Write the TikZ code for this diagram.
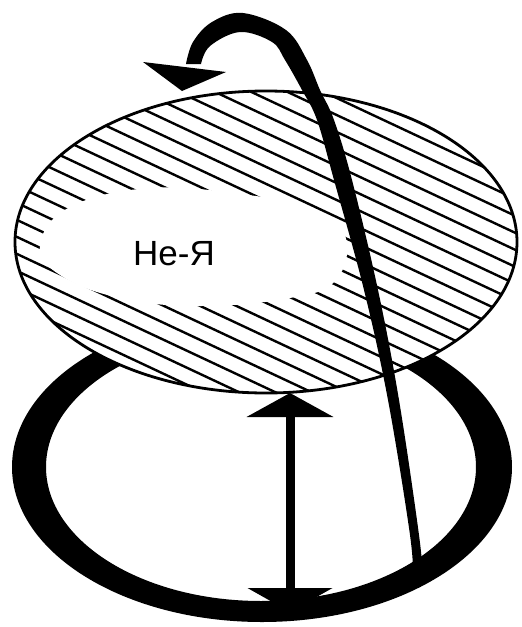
\documentclass[tikz,border=0pt]{standalone}
\usepackage{fontspec}
\setmainfont{Liberation Sans}
\usetikzlibrary{arrows.meta}
\begin{document}
\begin{tikzpicture}[x=1pt,y=-1pt,
  hatchline/.style={line width=2.4pt},
  discoutline/.style={line width=2.8pt},
  label/.style={font=\fontsize{35}{40}\selectfont, inner sep=0pt}]
\useasboundingbox (0,0) rectangle (522,627);
\fill[white] (0,0) rectangle (522,627);
% lower thick ring
\coordinate (ringc) at (262,467);
\fill[black, even odd rule] (ringc) ellipse [x radius=250pt, y radius=155pt]
      (261,467) ellipse [x radius=215pt, y radius=134pt];
% upper hatched disc
\coordinate (disc) at (266,242);
\fill[white] (disc) ellipse [x radius=251pt, y radius=151pt];
\begin{scope}
  \clip (disc) ellipse [x radius=251pt, y radius=151pt];
  \foreach \k in {-12,...,26} \draw[hatchline] (0,{-9+17*\k}) -- (522,{236+17*\k});
  \fill[white] plot[smooth cycle, tension=0.7] coordinates
    {(40,245) (70,207) (150,188) (240,194) (310,208) (345,235) (336,280) (290,298) (200,306) (120,298) (60,275)};
\end{scope}
\draw[discoutline] (disc) ellipse [x radius=251pt, y radius=151pt];
% label
\node[label, anchor=base west] (lbl) at (133,265) {He-Я};
% vertical double arrow
\coordinate (vt) at (290,393);
\coordinate (vb) at (290,612);
\draw[line width=9pt, {Triangle[width=86pt,length=24pt]}-{Triangle[width=84pt,length=24pt]}] (vt) -- (vb);
% curved rotation arrow (tapered)
\fill[black] plot[smooth, tension=0.6] coordinates
  {(423,580) (419,535) (399,400) (378,290) (352,180) (334,120) (320,90) (307,60) (286,30) (243,13) (212,22) (193,42) (186,64)}
  -- plot[smooth, tension=0.6] coordinates
  {(201,64) (210,46) (240,32) (272,42) (285,60) (302,90) (317,120) (334,180) (364,290) (388,400) (410,535) (413,580)}
  -- cycle;
\coordinate (tip) at (143,62);
\fill[black] (tip) -- (226,72) -- (182,91) -- cycle;
\end{tikzpicture}
\end{document}
